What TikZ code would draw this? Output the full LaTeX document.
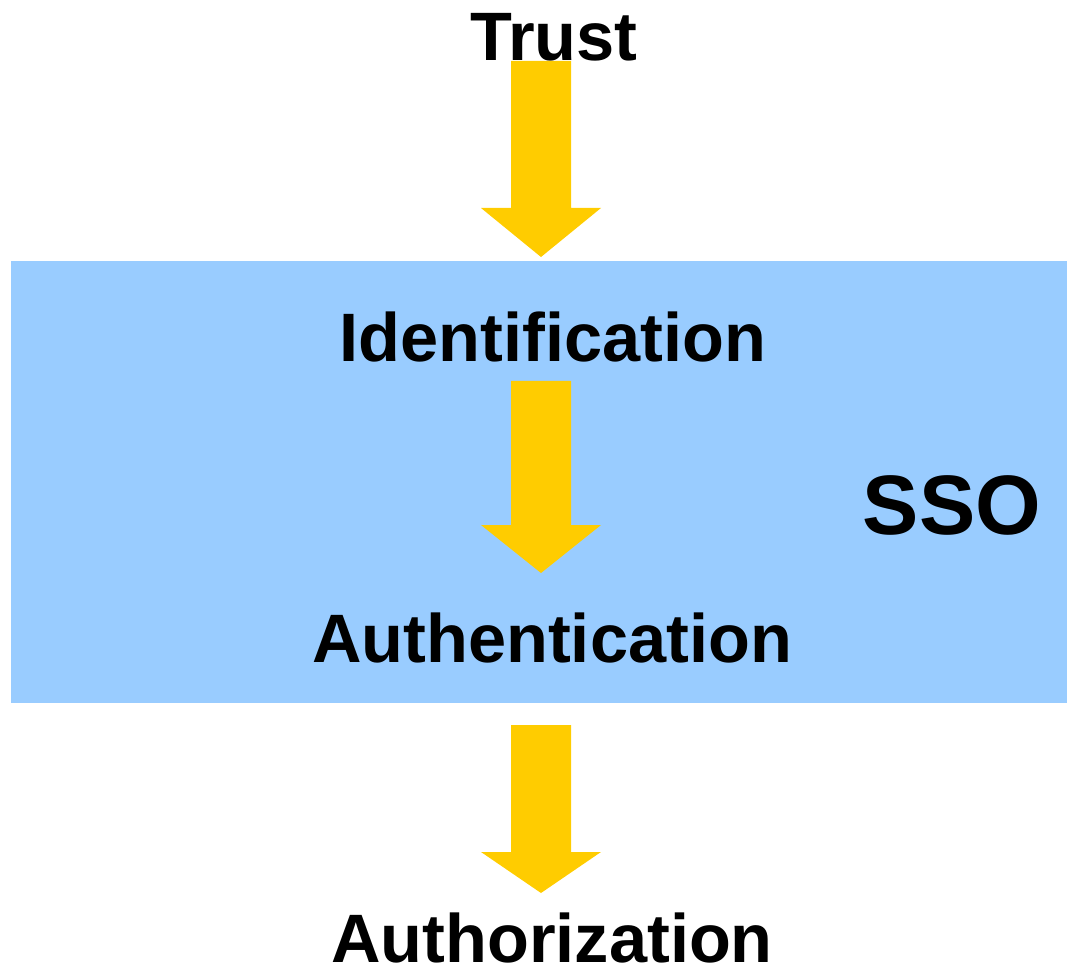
\documentclass[tikz,border=0pt]{standalone}
\usepackage{fontspec}
\setmainfont{Liberation Sans}
\usepackage{tikz}
\usetikzlibrary{calc}
\definecolor{ssoblue}{RGB}{153,204,255}
\definecolor{flowgold}{RGB}{255,204,0}

% block arrow: #1 shaft top, #2 tip, #3 head length
\newcommand{\flowarrow}[3]{%
    \fill[flowgold] ($(#1)+(-0.30,0)$) -- ($(#1)+(0.30,0)$)
        -- ($(#2)+(0.30,#3)$) -- ($(#2)+(0.60,#3)$) -- (#2)
        -- ($(#2)+(-0.60,#3)$) -- ($(#2)+(-0.30,#3)$) -- cycle;
}

\begin{document}
\begin{tikzpicture}[
    stepbox/.style={font=\bfseries\fontsize{19.5}{23}\selectfont, anchor=base, inner sep=0pt},
    bigbox/.style={font=\bfseries\fontsize{24}{28}\selectfont, anchor=base, inner sep=0pt}
]
    \useasboundingbox (0,0) rectangle (10.67,9.66);

    % SSO band
    \fill[ssoblue] (0.11,2.63) rectangle (10.67,7.05);
    \node[bigbox] (sso) at (9.52,4.32) {SSO};

    % Steps
    \node[stepbox] (trust) at (5.54,9.05) {Trust};
    \node[stepbox] (ident) at (5.53,6.04) {Identification};
    \node[stepbox] (authn) at (5.52,3.04) {Authentication};
    \node[stepbox] (authz) at (5.52,0.04) {Authorization};

    % Arrow ends
    \coordinate (a1top) at (5.41,9.05);
    \coordinate (a1tip) at (5.41,7.09);
    \coordinate (a2top) at (5.41,5.85);
    \coordinate (a2tip) at (5.41,3.93);
    \coordinate (a3top) at (5.41,2.41);
    \coordinate (a3tip) at (5.41,0.73);

    \flowarrow{a1top}{a1tip}{0.49}
    \flowarrow{a2top}{a2tip}{0.48}
    \flowarrow{a3top}{a3tip}{0.41}
\end{tikzpicture}
\end{document}
